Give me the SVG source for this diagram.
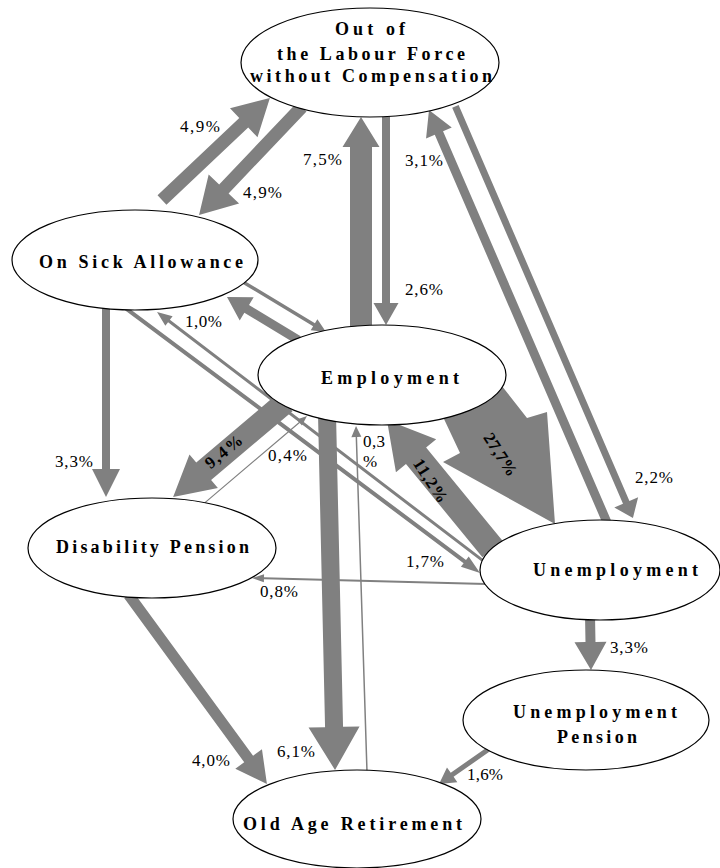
<svg xmlns="http://www.w3.org/2000/svg" width="720" height="868" viewBox="0 0 720 868">
<style>
.a{fill:#808080}
.nd ellipse{fill:#fff;stroke:#000;stroke-width:1.2}
text{font-family:'Liberation Serif','Times New Roman',serif;fill:#000}
.nt{font-weight:bold;font-size:18px;text-anchor:middle}
.lb{font-size:17px}
.lbb{font-size:17px;font-weight:bold;text-anchor:middle}
</style>
<rect width="720" height="868" fill="#fff"/>
<g id="connectors">
<polygon class="a" transform="translate(162,200) rotate(-43.4)" points="0,-6.5 112.5,-6.5 112.5,-20 148.5,0 112.5,20 112.5,6.5 0,6.5"/>
<polygon class="a" transform="translate(301.8,107.1) rotate(133.6)" points="0,-6.5 113,-6.5 113,-21 149,0 113,21 113,6.5 0,6.5"/>
<polygon class="a" transform="translate(361,330) rotate(-90)" points="0,-11 183,-11 183,-18.5 213,0 183,18.5 183,11 0,11"/>
<polygon class="a" transform="translate(386,112) rotate(90)" points="0,-4 191,-4 191,-12.5 213,0 191,12.5 191,4 0,4"/>
<polygon class="a" transform="translate(607.6,523.7) rotate(-113.35)" points="0,-4.5 425.6,-4.5 425.6,-14 450.6,0 425.6,14 425.6,4.5 0,4.5"/>
<polygon class="a" transform="translate(455.4,106.3) rotate(66.67)" points="0,-3.5 431.3,-3.5 431.3,-13 448.3,0 431.3,13 431.3,3.5 0,3.5"/>
<polygon class="a" transform="translate(298.4,340.1) rotate(-148.9)" points="0,-4.5 60.4,-4.5 60.4,-13.5 83.4,0 60.4,13.5 60.4,4.5 0,4.5"/>
<polygon class="a" transform="translate(239.6,279.9) rotate(31.06)" points="0,-1.75 86.9,-1.75 86.9,-6.5 100.9,0 86.9,6.5 86.9,1.75 0,1.75"/>
<polygon class="a" transform="translate(106,305) rotate(90)" points="0,-4 164,-4 164,-14 192,0 164,14 164,4 0,4"/>
<polygon class="a" transform="translate(124.8,307.6) rotate(36.76)" points="0,-2 424.4,-2 424.4,-6.5 443.4,0 424.4,6.5 424.4,2 0,2"/>
<polygon class="a" transform="translate(485.2,562.4) rotate(-142.65)" points="0,-1.5 397.8,-1.5 397.8,-6 412.8,0 397.8,6 397.8,1.5 0,1.5"/>
<polygon class="a" transform="translate(285.1,402.4) rotate(139.8)" points="0,-11.5 106.6,-11.5 106.6,-22 146.6,0 106.6,22 106.6,11.5 0,11.5"/>
<polygon class="a" transform="translate(205,502.6) rotate(-40.33)" points="0,-0.6 123.8,-0.6 123.8,-4 133.8,0 123.8,4 123.8,0.6 0,0.6"/>
<polygon class="a" points="436,402 460,453 443,462 555,524 547,412 527,418 494,376"/>
<polygon class="a" transform="translate(492.5,549.1) rotate(-129.3)" points="0,-13 120.7,-13 120.7,-26 166.7,0 120.7,26 120.7,13 0,13"/>
<polygon class="a" transform="translate(486,584) rotate(-178.53)" points="0,-1 222.1,-1 222.1,-4 234.1,0 222.1,4 222.1,1 0,1"/>
<polygon class="a" transform="translate(128.6,594.8) rotate(53.83)" points="0,-5.5 203.4,-5.5 203.4,-16.5 234.4,0 203.4,16.5 203.4,5.5 0,5.5"/>
<polygon class="a" transform="translate(327,414) rotate(88.71)" points="0,-9 313.1,-9 313.1,-25.5 356.1,0 313.1,25.5 313.1,9 0,9"/>
<polygon class="a" transform="translate(367.1,775) rotate(-91.82)" points="0,-0.75 338.2,-0.75 338.2,-5 349.2,0 338.2,5 338.2,0.75 0,0.75"/>
<polygon class="a" transform="translate(590,615) rotate(88.96)" points="0,-5 27,-5 27,-16 55,0 27,16 27,5 0,5"/>
<polygon class="a" transform="translate(489.3,748.7) rotate(144.9)" points="0,-2.5 45.4,-2.5 45.4,-9 61.4,0 45.4,9 45.4,2.5 0,2.5"/>
</g>
<g id="node-out" class="nd">
<ellipse cx="370" cy="62.5" rx="129" ry="54.5"/>
<text class="nt" x="370" y="35" textLength="70" lengthAdjust="spacing">Out of</text>
<text class="nt" x="371" y="60" textLength="188" lengthAdjust="spacing">the Labour Force</text>
<text class="nt" x="371" y="82" textLength="242" lengthAdjust="spacing">without Compensation</text>
</g>
<g id="node-sick" class="nd">
<ellipse cx="135" cy="260" rx="123" ry="50"/>
<text class="nt" x="141" y="268" textLength="204" lengthAdjust="spacing">On Sick Allowance</text>
</g>
<g id="node-employment" class="nd">
<ellipse cx="382" cy="375" rx="124" ry="50"/>
<text class="nt" x="390" y="384" textLength="138" lengthAdjust="spacing">Employment</text>
</g>
<g id="node-disability" class="nd">
<ellipse cx="152" cy="548" rx="124" ry="50"/>
<text class="nt" x="152.5" y="553" textLength="193" lengthAdjust="spacing">Disability Pension</text>
</g>
<g id="node-unemployment" class="nd">
<ellipse cx="600" cy="570" rx="120" ry="50"/>
<text class="nt" x="615.5" y="576" textLength="165" lengthAdjust="spacing">Unemployment</text>
</g>
<g id="node-unemp-pension" class="nd">
<ellipse cx="586" cy="720" rx="123" ry="50"/>
<text class="nt" x="595" y="718" textLength="164" lengthAdjust="spacing">Unemployment</text>
<text class="nt" x="597" y="743" textLength="80" lengthAdjust="spacing">Pension</text>
</g>
<g id="node-oldage" class="nd">
<ellipse cx="357" cy="819" rx="124" ry="49"/>
<text class="nt" x="352.5" y="830" textLength="219" lengthAdjust="spacing">Old Age Retirement</text>
</g>
<g id="labels">
<text class="lb" x="180" y="132" textLength="40" lengthAdjust="spacing">4,9%</text>
<text class="lb" x="243" y="198" textLength="39" lengthAdjust="spacing">4,9%</text>
<text class="lb" x="303" y="165" textLength="39" lengthAdjust="spacing">7,5%</text>
<text class="lb" x="405" y="166" textLength="38" lengthAdjust="spacing">3,1%</text>
<text class="lb" x="405" y="295" textLength="38" lengthAdjust="spacing">2,6%</text>
<text class="lb" x="185" y="327" textLength="37" lengthAdjust="spacing">1,0%</text>
<text class="lb" x="55" y="467" textLength="38" lengthAdjust="spacing">3,3%</text>
<text class="lb" x="268" y="461" textLength="39" lengthAdjust="spacing">0,4%</text>
<text class="lb" x="363" y="447" textLength="22" lengthAdjust="spacing">0,3</text>
<text class="lb" x="363" y="467">%</text>
<text class="lb" x="635" y="483" textLength="38" lengthAdjust="spacing">2,2%</text>
<text class="lb" x="406" y="567" textLength="38" lengthAdjust="spacing">1,7%</text>
<text class="lb" x="260" y="597" textLength="38" lengthAdjust="spacing">0,8%</text>
<text class="lb" x="610" y="653" textLength="38" lengthAdjust="spacing">3,3%</text>
<text class="lb" x="277" y="757" textLength="38" lengthAdjust="spacing">6,1%</text>
<text class="lb" x="192" y="766" textLength="38" lengthAdjust="spacing">4,0%</text>
<text class="lb" x="467" y="780" textLength="36" lengthAdjust="spacing">1,6%</text>
<text class="lbb" transform="translate(224,452) rotate(-39)" x="0" y="5" textLength="43" lengthAdjust="spacing">9,4%</text>
<text class="lbb" transform="translate(500,455) rotate(57)" x="0" y="5" textLength="48" lengthAdjust="spacing">27,7%</text>
<text class="lbb" transform="translate(430,481) rotate(57)" x="0" y="5" textLength="49" lengthAdjust="spacing">11,2%</text>
</g>
</svg>
